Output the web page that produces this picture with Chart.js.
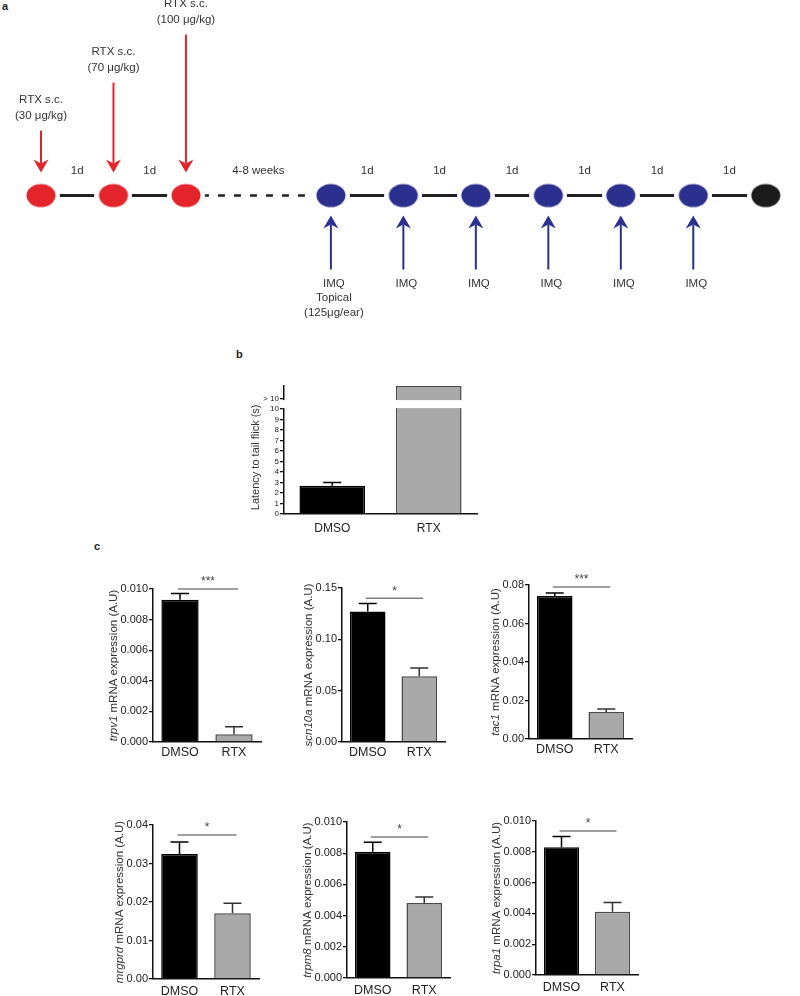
<!DOCTYPE html>
<html>
<head>
<meta charset="utf-8">
<script src="https://cdn.jsdelivr.net/npm/chart.js@4.4.1/dist/chart.umd.min.js"></script>
<style>
  body { margin: 0; background: #fff; }
  #page { position: relative; width: 800px; height: 996px; overflow: hidden; font-family: "Liberation Sans", Arial, Helvetica, sans-serif; }
  #page canvas { position: absolute; }
  .panel { position: absolute; font-weight: bold; font-size: 11px; line-height: 12px; color: #222; }
</style>
</head>
<body>
<div id="page">
  <div class="panel" style="left:2px;top:0px">a</div>
  <div class="panel" style="left:236px;top:348px">b</div>
  <div class="panel" style="left:94px;top:540px">c</div>
  <canvas id="timeline" width="800" height="340" style="left:0;top:0"></canvas>
</div>
<script>
const FONT = '"Liberation Sans", Arial, Helvetica, sans-serif';
const RED = "#e3242b";
const BLUE = "#2b2f8e";
const INK = "#222";

// panel a - dosing timeline (one step = one day, the 4-8 week gap drawn as two)
const timelineSteps = [0, 1, 2, 4, 5, 6, 7, 8, 9, 10];
const timelineKinds = ["rtx", "rtx", "rtx", "imq", "imq", "imq", "imq", "imq", "imq", "end"];
const rtxDoses = ["(30 μg/kg)", "(70 μg/kg)", "(100 μg/kg)"];
const gapLabels = ["1d", "1d", "4-8 weeks", "1d", "1d", "1d", "1d", "1d", "1d"];
const imqNotes = [["IMQ", "Topical", "(125μg/ear)"], ["IMQ"], ["IMQ"], ["IMQ"], ["IMQ"], ["IMQ"]];

// panel b - tail flick latency (RTX is above the 10 s cut-off, drawn to the top of the broken axis)
const latencyGroups = ["DMSO", "RTX"];
const latencyMeans = [2.7, 12.2];
const latencySem = [0.3, 0];
const latencyTicks = [0, 1, 2, 3, 4, 5, 6, 7, 8, 9, 10, 11];
const latencyTickLabels = ["0", "1", "2", "3", "4", "5", "6", "7", "8", "9", "10", "> 10"];
const latencyBreak = [10, 11];

// panel c - mRNA expression
const groups = ["DMSO", "RTX"];
const genes = ["trpv1", "scn10a", "tac1", "mrgprd", "trpm8", "trpa1"];
const trpv1Mean = [0.0093, 0.0005];
const trpv1Sem = [0.0004, 0.0005];
const scn10aMean = [0.127, 0.064];
const scn10aSem = [0.008, 0.008];
const tac1Mean = [0.0743, 0.014];
const tac1Sem = [0.0015, 0.0016];
const mrgprdMean = [0.0325, 0.0171];
const mrgprdSem = [0.0031, 0.0026];
const trpm8Mean = [0.0081, 0.0048];
const trpm8Sem = [0.0006, 0.0004];
const trpa1Mean = [0.0083, 0.0041];
const trpa1Sem = [0.0007, 0.0006];
const sigStars = ["***", "*", "***", "*", "*", "*"];
const sigLevels = [0.0100, 0.140, 0.079, 0.0374, 0.00904, 0.00935];
const yMaxes = [0.010, 0.15, 0.08, 0.04, 0.010, 0.010];
const ySteps = [0.002, 0.05, 0.02, 0.01, 0.002, 0.002];
const yDecimals = [3, 2, 2, 2, 3, 3];

const page = document.getElementById("page");

// ---------- panel a ----------
function ellipseImage(color) {
  const c = document.createElement("canvas");
  c.width = 38;
  c.height = 28;
  const g = c.getContext("2d");
  g.fillStyle = "#fff";
  g.beginPath();
  g.ellipse(19, 14, 19, 14, 0, 0, Math.PI * 2);
  g.fill();
  g.fillStyle = color;
  g.beginPath();
  g.ellipse(19, 14, 14.5, 11.5, 0, 0, Math.PI * 2);
  g.fill();
  return c;
}
const dotImg = { rtx: ellipseImage(RED), imq: ellipseImage(BLUE), end: ellipseImage("#1b1b1b") };

function drawArrow(ctx, x, tail, tip, color) {
  const dir = tip > tail ? 1 : -1;
  const headLen = 13, half = 7.5, notch = 4;
  ctx.strokeStyle = color;
  ctx.fillStyle = color;
  ctx.lineWidth = 2;
  ctx.beginPath();
  ctx.moveTo(x, tail);
  ctx.lineTo(x, tip - dir * (headLen - notch));
  ctx.stroke();
  ctx.beginPath();
  ctx.moveTo(x, tip);
  ctx.lineTo(x - half, tip - dir * headLen);
  ctx.lineTo(x, tip - dir * (headLen - notch));
  ctx.lineTo(x + half, tip - dir * headLen);
  ctx.closePath();
  ctx.fill();
}

const timelineNotes = {
  id: "timelineNotes",
  afterDatasetsDraw(chart) {
    const ctx = chart.ctx;
    const pts = chart.getDatasetMeta(0).data;
    ctx.save();
    ctx.font = "11.5px " + FONT;
    ctx.textAlign = "center";
    ctx.textBaseline = "middle";
    for (let i = 0; i < pts.length - 1; i++) {
      ctx.fillStyle = "#333";
      ctx.fillText(gapLabels[i], (pts[i].x + pts[i + 1].x) / 2, pts[i].y - 25);
    }
    let r = 0, m = 0;
    pts.forEach((p, i) => {
      if (timelineKinds[i] === "rtx") {
        const tip = p.y - 23;
        const tail = tip - (42 + 48 * r);
        drawArrow(ctx, p.x, tail, tip, RED);
        ctx.fillStyle = "#333";
        ctx.fillText("RTX s.c.", p.x, tail - 31);
        ctx.fillText(rtxDoses[r], p.x, tail - 15);
        r++;
      } else if (timelineKinds[i] === "imq") {
        const tip = p.y + 20;
        const tail = tip + 54;
        drawArrow(ctx, p.x, tail, tip, BLUE);
        ctx.fillStyle = "#333";
        imqNotes[m].forEach((t, j) => ctx.fillText(t, p.x + 3, tail + 14 + 14.5 * j));
        m++;
      }
    });
    ctx.restore();
  },
};

new Chart(document.getElementById("timeline"), {
  type: "scatter",
  data: {
    datasets: [
      {
        data: timelineSteps.map((s) => ({ x: s, y: 0 })),
        showLine: true,
        borderColor: INK,
        borderWidth: 3,
        segment: {
          borderDash: (c) => (c.p1.parsed.x - c.p0.parsed.x > 1 ? [7, 9] : undefined),
          borderWidth: (c) => (c.p1.parsed.x - c.p0.parsed.x > 1 ? 2.5 : 3),
        },
        pointStyle: (c) => dotImg[timelineKinds[c.dataIndex]],
        pointRadius: 12,
      },
    ],
  },
  options: {
    responsive: false,
    animation: false,
    events: [],
    layout: { padding: 0 },
    plugins: { legend: { display: false }, tooltip: { enabled: false } },
    scales: {
      x: { type: "linear", display: false, min: -0.3586, max: 10.2656 },
      y: { display: false, min: -142, max: 198 },
    },
  },
  plugins: [timelineNotes],
});

// ---------- shared bar chart plugins ----------
const errorBars = {
  id: "errorBars",
  afterDatasetsDraw(chart, args, opts) {
    const { ctx } = chart;
    const y = chart.scales.y;
    const vals = chart.data.datasets[0].data;
    ctx.save();
    ctx.lineWidth = 1.5;
    chart.getDatasetMeta(0).data.forEach((bar, i) => {
      const sem = opts.sem[i];
      if (!sem) return;
      const top = y.getPixelForValue(vals[i] + sem);
      ctx.strokeStyle = opts.colors[i];
      ctx.beginPath();
      ctx.moveTo(bar.x, bar.y);
      ctx.lineTo(bar.x, top);
      ctx.moveTo(bar.x - 9, top);
      ctx.lineTo(bar.x + 9, top);
      ctx.stroke();
    });
    ctx.restore();
  },
};

const significance = {
  id: "significance",
  afterDatasetsDraw(chart, args, opts) {
    if (!opts.stars) return;
    const { ctx } = chart;
    const bars = chart.getDatasetMeta(0).data;
    const y = chart.scales.y.getPixelForValue(opts.level);
    const x0 = bars[0].x - 2, x1 = bars[1].x + 4;
    ctx.save();
    ctx.strokeStyle = "#808080";
    ctx.lineWidth = 1.5;
    ctx.beginPath();
    ctx.moveTo(x0, y);
    ctx.lineTo(x1, y);
    ctx.stroke();
    ctx.fillStyle = "#444";
    ctx.font = "12px " + FONT;
    ctx.textAlign = "center";
    ctx.textBaseline = "middle";
    ctx.fillText(opts.stars, (x0 + x1) / 2, y - 7);
    ctx.restore();
  },
};

const axisTitle = {
  id: "axisTitle",
  afterDraw(chart, args, opts) {
    const { ctx, chartArea } = chart;
    const ys = chart.scales.y;
    ctx.save();
    ctx.font = opts.tickFont;
    let maxW = 0;
    ys.ticks.forEach((t) => {
      const lbl = Array.isArray(t.label) ? t.label.join("") : String(t.label);
      maxW = Math.max(maxW, ctx.measureText(lbl).width);
    });
    const cx = chartArea.left - 5 - maxW - opts.gap;
    const cy = opts.span
      ? (ys.getPixelForValue(opts.span[0]) + ys.getPixelForValue(opts.span[1])) / 2
      : (chartArea.top + chartArea.bottom) / 2;
    ctx.translate(cx, cy);
    ctx.rotate(-Math.PI / 2);
    ctx.textBaseline = "middle";
    ctx.textAlign = "left";
    ctx.fillStyle = "#333";
    const fonts = opts.parts.map((p) => (p.italic ? "italic " : "") + opts.size + "px " + FONT);
    let total = 0;
    const widths = opts.parts.map((p, i) => {
      ctx.font = fonts[i];
      const w = ctx.measureText(p.text).width;
      total += w;
      return w;
    });
    let x = -total / 2;
    opts.parts.forEach((p, i) => {
      ctx.font = fonts[i];
      ctx.fillText(p.text, x, 0);
      x += widths[i];
    });
    ctx.restore();
  },
};

const axisBreak = {
  id: "axisBreak",
  afterDraw(chart, args, opts) {
    if (!opts.range) return;
    const { ctx, chartArea } = chart;
    const ys = chart.scales.y;
    const yTop = ys.getPixelForValue(opts.range[1]) + 1.5;
    const yBot = ys.getPixelForValue(opts.range[0]) - 1;
    ctx.save();
    ctx.fillStyle = "#fff";
    ctx.fillRect(chartArea.left - 2, yTop, chartArea.right - chartArea.left + 4, yBot - yTop);
    ctx.restore();
  },
};

function makeBarChart(box, cfg) {
  const YW = 70, PT = 26, PR = 10;
  const canvas = document.createElement("canvas");
  canvas.width = YW + (box.right - box.axisX) + PR;
  canvas.height = PT + (box.bottom - box.top) + cfg.xh;
  canvas.style.left = box.axisX - YW + "px";
  canvas.style.top = box.top - PT + "px";
  page.appendChild(canvas);

  const yScale = {
    min: 0,
    max: cfg.max,
    ticks: {
      stepSize: cfg.step,
      autoSkip: false,
      font: { size: cfg.tickSize, family: FONT },
      color: INK,
      padding: 1,
      callback: cfg.tickLabel,
    },
    grid: { drawOnChartArea: false, drawTicks: true, tickLength: 4, color: "#111", lineWidth: 1.3 },
    border: { color: "#111", width: 1.5 },
    afterFit: (s) => { s.width = YW; },
  };
  if (cfg.tickValues) {
    yScale.afterBuildTicks = (s) => { s.ticks = cfg.tickValues.map((v) => ({ value: v })); };
  }

  new Chart(canvas, {
    type: "bar",
    data: {
      labels: cfg.labels,
      datasets: [
        {
          data: cfg.values,
          backgroundColor: ["#000", "#a9a9a9"],
          borderColor: ["#000", "#4a4a4a"],
          borderWidth: 1.5,
          borderSkipped: "bottom",
          barPercentage: cfg.barPct,
          categoryPercentage: 1,
        },
      ],
    },
    options: {
      responsive: false,
      animation: false,
      events: [],
      layout: { padding: { top: PT, right: PR, left: 0, bottom: 0 } },
      plugins: {
        legend: { display: false },
        tooltip: { enabled: false },
        errorBars: { sem: cfg.sem, colors: ["#000", "#333"] },
        significance: { stars: cfg.stars, level: cfg.sigLevel },
        axisTitle: { parts: cfg.title, size: cfg.titleSize, tickFont: cfg.tickSize + "px " + FONT, gap: cfg.titleGap, span: cfg.titleSpan },
        axisBreak: { range: cfg.breakRange },
      },
      scales: {
        x: {
          grid: { display: false, drawTicks: false },
          border: { color: "#111", width: 1.5 },
          ticks: { font: { size: cfg.xSize, family: FONT }, color: INK, padding: cfg.xPad },
          afterFit: (s) => { s.height = cfg.xh; },
        },
        y: yScale,
      },
    },
    plugins: [errorBars, significance, axisTitle, axisBreak],
  });
}

// ---------- panel b ----------
makeBarChart(
  { axisX: 284, right: 477, top: 386, bottom: 514 },
  {
    labels: latencyGroups,
    values: latencyMeans,
    sem: latencySem,
    max: 12.2,
    step: 1,
    tickValues: latencyTicks,
    tickLabel: (v, i) => latencyTickLabels[i],
    tickSize: 8,
    xSize: 12,
    xPad: 7,
    xh: 28,
    barPct: 0.68,
    title: [{ text: "Latency to tail flick (s)", italic: false }],
    titleSize: 11,
    titleGap: 7,
    titleSpan: [0, 10.8],
    breakRange: latencyBreak,
  }
);

// ---------- panel c ----------
const cBoxes = [
  { axisX: 153, right: 261, top: 589, bottom: 742 },
  { axisX: 342, right: 445, top: 588, bottom: 742 },
  { axisX: 529, right: 632, top: 585, bottom: 739 },
  { axisX: 153, right: 259, top: 825, bottom: 979 },
  { axisX: 347, right: 450, top: 822, bottom: 978 },
  { axisX: 536, right: 638, top: 821, bottom: 975 },
];
const cMeans = [trpv1Mean, scn10aMean, tac1Mean, mrgprdMean, trpm8Mean, trpa1Mean];
const cSems = [trpv1Sem, scn10aSem, tac1Sem, mrgprdSem, trpm8Sem, trpa1Sem];

genes.forEach((gene, k) => {
  makeBarChart(cBoxes[k], {
    labels: groups,
    values: cMeans[k],
    sem: cSems[k],
    max: yMaxes[k],
    step: ySteps[k],
    tickLabel: (v) => Number(v).toFixed(yDecimals[k]),
    tickSize: 11,
    xSize: 12.5,
    xPad: k < 3 ? 3 : 5,
    xh: 26,
    barPct: 0.69,
    stars: sigStars[k],
    sigLevel: sigLevels[k],
    title: [
      { text: gene, italic: true },
      { text: " mRNA expression (A.U)", italic: false },
    ],
    titleSize: 11.5,
    titleGap: 7,
  });
});
</script>
</body>
</html>
